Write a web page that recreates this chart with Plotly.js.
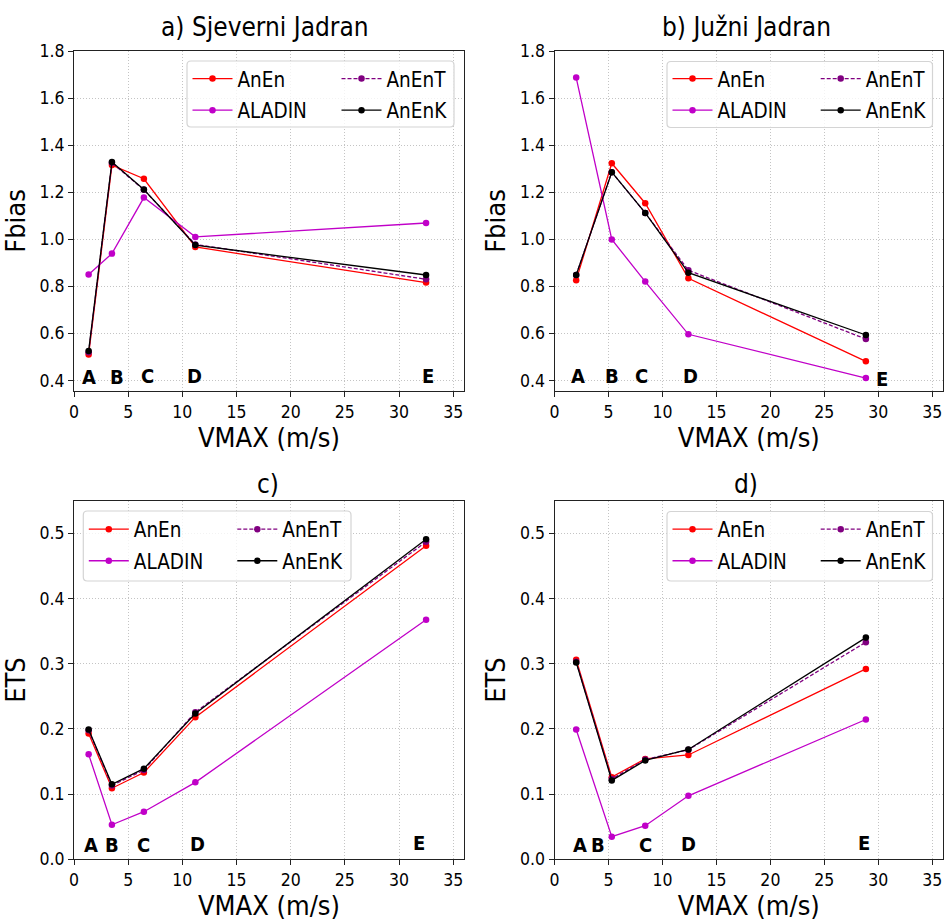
<!DOCTYPE html>
<html><head><meta charset="utf-8">
<script src="https://cdn.plot.ly/plotly-3.0.1.min.js"></script>
<style>body{margin:0;background:#fff}</style>
</head><body><div id="chart" style="width:944px;height:924px"></div>
<script>
// ---- data ----
const seriesNames = ['AnEn', 'ALADIN', 'AnEnT', 'AnEnK'];
const vmaxNorth = [1.35, 3.5, 6.45, 11.2, 32.5];
const vmaxSouth = [2.0, 5.3, 8.4, 12.4, 28.85];

const fbiasNorthAnEn   = [0.51, 1.315, 1.257, 0.967, 0.816];
const fbiasNorthALADIN = [0.85, 0.939, 1.177, 1.01, 1.069];
const fbiasNorthAnEnT  = [0.52, 1.325, 1.21, 0.978, 0.83];
const fbiasNorthAnEnK  = [0.525, 1.328, 1.211, 0.975, 0.848];

const fbiasSouthAnEn   = [0.826, 1.323, 1.153, 0.834, 0.481];
const fbiasSouthALADIN = [1.687, 0.999, 0.82, 0.596, 0.41];
const fbiasSouthAnEnT  = [0.848, 1.285, 1.112, 0.868, 0.576];
const fbiasSouthAnEnK  = [0.848, 1.285, 1.112, 0.858, 0.593];

const etsNorthAnEn   = [0.193, 0.109, 0.133, 0.218, 0.481];
const etsNorthALADIN = [0.161, 0.053, 0.073, 0.118, 0.3675];
const etsNorthAnEnT  = [0.198, 0.113, 0.137, 0.2256, 0.487];
const etsNorthAnEnK  = [0.199, 0.115, 0.139, 0.2236, 0.491];

const etsSouthAnEn   = [0.306, 0.126, 0.154, 0.16, 0.292];
const etsSouthALADIN = [0.199, 0.0346, 0.0515, 0.0974, 0.2144];
const etsSouthAnEnT  = [0.303, 0.123, 0.153, 0.168, 0.333];
const etsSouthAnEnK  = [0.302, 0.121, 0.1516, 0.1684, 0.34];

const classLabels = ['A', 'B', 'C', 'D', 'E'];
const labelXNorthTop = [1.36, 3.95, 6.8, 11.1, 32.7];
const labelXSouthTop = [2.2, 5.3, 8.1, 12.6, 30.3];
const labelXNorthBot = [1.55, 3.5, 6.4, 11.4, 31.8];
const labelXSouthBot = [2.4, 4.0, 8.4, 12.4, 28.7];
const labelYTop = [0.413, 0.413, 0.42, 0.42, 0.42];
const labelYTopSouth = [0.42, 0.42, 0.42, 0.42, 0.405];
const labelYBot = [0.022, 0.022, 0.022, 0.024, 0.025];

const panelTitles = ['a) Sjeverni Jadran', 'b) Južni Jadran', 'c)', 'd)'];
const xTickVals = [0, 5, 10, 15, 20, 25, 30, 35];
const fbiasTicks = [0.4, 0.6, 0.8, 1.0, 1.2, 1.4, 1.6, 1.8];
const etsTicks = [0.0, 0.1, 0.2, 0.3, 0.4, 0.5];

// ---- styles ----
const FONT = '"DejaVu Sans Condensed", "DejaVu Sans", sans-serif';
const W = 944, H = 924;
const styles = {
  AnEn:   {color: '#ff0000', dash: 'solid', col: 0},
  ALADIN: {color: '#c000c8', dash: 'solid', col: 0},
  AnEnT:  {color: '#800080', dash: '4px,2px', col: 1},
  AnEnK:  {color: '#000000', dash: 'solid', col: 1}
};

// legend box (px): left, top, right, bottom, column-2 symbol start
const panels = [
  {x: vmaxNorth, ys: [fbiasNorthAnEn, fbiasNorthALADIN, fbiasNorthAnEnT, fbiasNorthAnEnK], xa: 'x', ya: 'y', lx: labelXNorthTop, ly: labelYTop,
   box: [187, 61, 454, 127], col2: 342.5, row1: 77.7},
  {x: vmaxSouth, ys: [fbiasSouthAnEn, fbiasSouthALADIN, fbiasSouthAnEnT, fbiasSouthAnEnK], xa: 'x2', ya: 'y2', lx: labelXSouthTop, ly: labelYTopSouth,
   box: [667, 61.5, 932.5, 127.5], col2: 821.7, row1: 77.7},
  {x: vmaxNorth, ys: [etsNorthAnEn, etsNorthALADIN, etsNorthAnEnT, etsNorthAnEnK], xa: 'x3', ya: 'y3', lx: labelXNorthBot, ly: labelYBot,
   box: [83.3, 511, 351, 581], col2: 238.3, row1: 528.3},
  {x: vmaxSouth, ys: [etsSouthAnEn, etsSouthALADIN, etsSouthAnEnT, etsSouthAnEnK], xa: 'x4', ya: 'y4', lx: labelXSouthBot, ly: labelYBot,
   box: [667, 511.5, 932.5, 581], col2: 821.7, row1: 528.3}
];

const traces = [];
const annotations = [];
const shapes = [];
const legends = {};
function legName(i) { return i === 0 ? 'legend' : 'legend' + (i + 1); }
function roundRect(l, t, r, b, rad) {
  const X = v => (v / W).toFixed(5), Y = v => (1 - v / H).toFixed(5);
  return 'M' + X(l + rad) + ',' + Y(t) + ' L' + X(r - rad) + ',' + Y(t) +
    ' Q' + X(r) + ',' + Y(t) + ' ' + X(r) + ',' + Y(t + rad) +
    ' L' + X(r) + ',' + Y(b - rad) + ' Q' + X(r) + ',' + Y(b) + ' ' + X(r - rad) + ',' + Y(b) +
    ' L' + X(l + rad) + ',' + Y(b) + ' Q' + X(l) + ',' + Y(b) + ' ' + X(l) + ',' + Y(b - rad) +
    ' L' + X(l) + ',' + Y(t + rad) + ' Q' + X(l) + ',' + Y(t) + ' ' + X(l + rad) + ',' + Y(t) + ' Z';
}

panels.forEach((p, pi) => {
  const legCols = [legName(pi * 2), legName(pi * 2 + 1)];
  const colX = [p.box[0] + 6.5, p.col2];
  legCols.forEach((ln, ci) => {
    legends[ln] = {
      x: (colX[ci] - 6) / W, y: 1 - (p.row1 - 19) / H, xanchor: 'left', yanchor: 'top',
      xref: 'paper', yref: 'paper', orientation: 'v', traceorder: 'grouped', tracegroupgap: 2,
      bgcolor: 'rgba(0,0,0,0)', borderwidth: 0, itemwidth: 40,
      font: {family: FONT, size: 20.5, color: '#000'}
    };
  });
  shapes.push({
    type: 'path', xref: 'paper', yref: 'paper', layer: 'above',
    path: roundRect(p.box[0], p.box[1], p.box[2], p.box[3], 4),
    line: {color: '#d4d4d4', width: 1.2}, fillcolor: 'rgba(255,255,255,0.8)'
  });
  seriesNames.forEach((name, si) => {
    const s = styles[name];
    traces.push({
      type: 'scatter', mode: 'lines+markers', name: name,
      x: p.x, y: p.ys[si], xaxis: p.xa, yaxis: p.ya,
      line: {color: s.color, width: 1.3, dash: s.dash},
      marker: {color: s.color, size: 6.5},
      legend: legCols[s.col], legendgroup: name + '_' + pi, legendrank: si + 1,
      hoverinfo: 'x+y+name'
    });
  });
  classLabels.forEach((lab, li) => {
    annotations.push({
      text: lab, x: p.lx[li], y: p.ly[li], xref: p.xa, yref: p.ya,
      showarrow: false, xanchor: 'center', yanchor: 'middle',
      font: {family: FONT, size: 20, color: '#000', weight: 'bold'}
    });
  });
});

const dom = {
  xl: [74 / W, 464 / W], xr: [554.6 / W, 943 / W],
  yt: [1 - 391 / H, 1 - 51 / H], yb: [1 - 859.3 / H, 1 - 500.7 / H]
};
const titlePos = [[265, 27], [746, 27], [268, 484], [746, 484]];
panelTitles.forEach((t, i) => {
  annotations.push({
    text: t, x: titlePos[i][0] / W, y: 1 - titlePos[i][1] / H, xref: 'paper', yref: 'paper',
    showarrow: false, xanchor: 'center', yanchor: 'middle',
    font: {family: FONT, size: 26, color: '#000'}
  });
});

const GRID = {showgrid: true, gridcolor: '#c4c4c4', griddash: '1px,2px', gridwidth: 1};
function xAxis(domain, anchor) {
  return Object.assign({
    domain: domain, anchor: anchor, range: [0, 36], tickvals: xTickVals,
    zeroline: false, showline: true, linecolor: '#222', linewidth: 1, mirror: true,
    ticks: 'outside', ticklen: 5, tickcolor: '#222',
    tickfont: {family: FONT, size: 17.5, color: '#000'},
    title: {text: 'VMAX (m/s)', font: {family: FONT, size: 27, color: '#000'}, standoff: 4}
  }, GRID);
}
function yAxis(domain, anchor, range, ticks, title, fmt) {
  return Object.assign({
    domain: domain, anchor: anchor, range: range, tickvals: ticks, tickformat: fmt,
    zeroline: false, showline: true, linecolor: '#222', linewidth: 1, mirror: true,
    ticks: 'outside', ticklen: 5, tickcolor: '#222',
    tickfont: {family: FONT, size: 17.5, color: '#000'},
    title: {text: title, font: {family: FONT, size: 27, color: '#000'}, standoff: 6}
  }, GRID);
}

const layout = Object.assign({
  width: W, height: H, margin: {l: 0, r: 0, t: 0, b: 0},
  paper_bgcolor: '#fff', plot_bgcolor: '#fff', showlegend: true,
  font: {family: FONT},
  xaxis: xAxis(dom.xl, 'y'), yaxis: yAxis(dom.yt, 'x', [0.355, 1.8], fbiasTicks, 'Fbias', '.1f'),
  xaxis2: xAxis(dom.xr, 'y2'), yaxis2: yAxis(dom.yt, 'x2', [0.355, 1.8], fbiasTicks, 'Fbias', '.1f'),
  xaxis3: xAxis(dom.xl, 'y3'), yaxis3: yAxis(dom.yb, 'x3', [0, 0.55], etsTicks, 'ETS', '.1f'),
  xaxis4: xAxis(dom.xr, 'y4'), yaxis4: yAxis(dom.yb, 'x4', [0, 0.55], etsTicks, 'ETS', '.1f'),
  annotations: annotations, shapes: shapes
}, legends);

Plotly.newPlot('chart', traces, layout, {displayModeBar: false, staticPlot: true});
</script>
</body></html>
